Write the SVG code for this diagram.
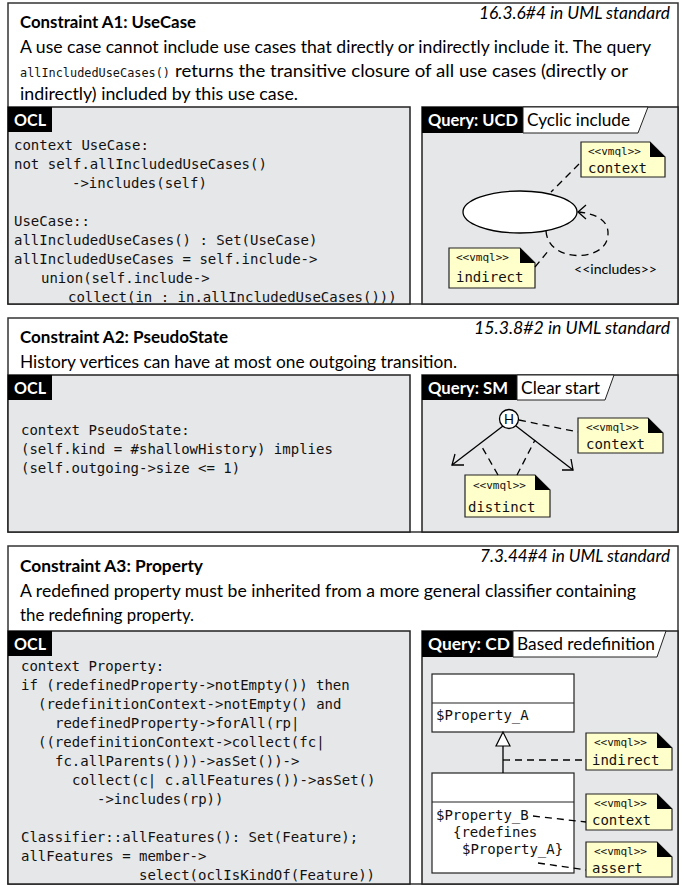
<svg xmlns="http://www.w3.org/2000/svg" width="684" height="886" viewBox="0 0 684 886">
<style>
.sec{fill:#fff;stroke:#333;stroke-width:1.5}
.panel{fill:#E6E7E8;stroke:#222;stroke-width:1.5}
.hdr{fill:#000}
.lbl{fill:#fff;stroke:#222;stroke-width:1}
.note{fill:#FFFFCC;stroke:#222;stroke-width:1.2}
.ear{fill:#000}
.cls{fill:#fff;stroke:#222;stroke-width:1.2}
.dash{fill:none;stroke:#000;stroke-width:1.3;stroke-dasharray:7 5}
.solid{fill:none;stroke:#000;stroke-width:1.3}
.t{font-family:Lato,'Open Sans',sans-serif;font-size:17px;fill:#000}
.b{font-weight:bold}
.i{font-style:italic}
.w{fill:#fff}
.m{font-family:'DejaVu Sans Mono',monospace;font-size:14px;fill:#111}
.s{font-family:'DejaVu Sans Mono',monospace;font-size:11px;fill:#111}
</style>

<!-- Section 1 -->
<g id="sectionA1">
<rect class="sec" x="8" y="3" width="670" height="301"/>
<text class="t b" x="20" y="28" textLength="176" lengthAdjust="spacingAndGlyphs">Constraint A1: UseCase</text>
<text class="t i" x="479" y="19" textLength="191" lengthAdjust="spacingAndGlyphs">16.3.6#4 in UML standard</text>
<text class="t" x="20" y="53" textLength="631" lengthAdjust="spacingAndGlyphs">A use case cannot include use cases that directly or indirectly include it. The query</text>
<text class="m" x="20" y="77" style="font-size:12px" textLength="150" lengthAdjust="spacingAndGlyphs">allIncludedUseCases()</text>
<text class="t" x="175" y="77" textLength="453" lengthAdjust="spacingAndGlyphs">returns the transitive closure of all use cases (directly or</text>
<text class="t" x="20" y="100" textLength="278" lengthAdjust="spacingAndGlyphs">indirectly) included by this use case.</text>
</g>
<g id="oclA1">
<rect class="panel" x="8" y="107" width="402" height="197"/>
<rect class="hdr" x="8" y="107" width="44" height="25"/>
<text class="t b w" x="14" y="126" textLength="32" lengthAdjust="spacingAndGlyphs">OCL</text>
<text class="m" x="14" y="150">context UseCase:</text>
<text class="m" x="14" y="169">not self.allIncludedUseCases()</text>
<text class="m" x="72" y="188">-&gt;includes(self)</text>
<text class="m" x="14" y="226">UseCase::</text>
<text class="m" x="14" y="245">allIncludedUseCases() : Set(UseCase)</text>
<text class="m" x="14" y="264">allIncludedUseCases = self.include-&gt;</text>
<text class="m" x="41" y="283">union(self.include-&gt;</text>
<text class="m" x="68" y="302">collect(in : in.allIncludedUseCases()))</text>
</g>
<g id="queryA1">
<rect class="panel" x="422" y="107" width="256" height="197"/>
<rect class="hdr" x="422" y="107" width="101" height="26"/>
<polygon class="lbl" points="523,107 648,107 638,133 523,133"/>
<text class="t b w" x="428" y="126" textLength="90" lengthAdjust="spacingAndGlyphs">Query: UCD</text>
<text class="t" x="527" y="126" textLength="103" lengthAdjust="spacingAndGlyphs">Cyclic include</text>
</g>
<g id="usecase">
<ellipse cx="520" cy="212" rx="57" ry="21" fill="#fff" stroke="#000" stroke-width="1.3"/>
</g>
<g id="noteContextA1">
<path class="note" d="M581,142 H650 L665,157 V177 H581 Z"/>
<path class="ear" d="M650,142 V157 H665 Z"/>
<text class="s" x="588" y="155">&lt;&lt;vmql&gt;&gt;</text>
<text class="m" x="588" y="173">context</text>
</g>
<g id="noteIndirectA1">
<path class="note" d="M449,248 H520 L535,263 V288 H449 Z"/>
<path class="ear" d="M520,248 V263 H535 Z"/>
<text class="s" x="456" y="261">&lt;&lt;vmql&gt;&gt;</text>
<text class="m" x="456" y="282">indirect</text>
</g>
<text class="t" x="574" y="274" style="font-size:14px" textLength="83" lengthAdjust="spacingAndGlyphs">&lt;&lt;includes&gt;&gt;</text>

<!-- Section 2 -->
<g id="sectionA2">
<rect class="sec" x="8" y="318" width="670" height="214"/>
<text class="t b" x="20" y="343" textLength="208" lengthAdjust="spacingAndGlyphs">Constraint A2: PseudoState</text>
<text class="t i" x="474" y="334" textLength="196" lengthAdjust="spacingAndGlyphs">15.3.8#2 in UML standard</text>
<text class="t" x="20" y="368" textLength="437" lengthAdjust="spacingAndGlyphs">History vertices can have at most one outgoing transition.</text>
</g>
<g id="oclA2">
<rect class="panel" x="8" y="375" width="402" height="157"/>
<rect class="hdr" x="8" y="375" width="44" height="25"/>
<text class="t b w" x="14" y="394" textLength="32" lengthAdjust="spacingAndGlyphs">OCL</text>
<text class="m" x="21" y="435">context PseudoState:</text>
<text class="m" x="21" y="454">(self.kind = #shallowHistory) implies</text>
<text class="m" x="21" y="473">(self.outgoing-&gt;size &lt;= 1)</text>
</g>
<g id="queryA2">
<rect class="panel" x="422" y="375" width="256" height="157"/>
<rect class="hdr" x="422" y="375" width="95" height="25"/>
<polygon class="lbl" points="517,375 614,375 605,400 517,400"/>
<text class="t b w" x="428" y="394" textLength="80" lengthAdjust="spacingAndGlyphs">Query: SM</text>
<text class="t" x="521" y="394" textLength="79" lengthAdjust="spacingAndGlyphs">Clear start</text>
</g>
<g id="history">
<circle cx="509" cy="419" r="9.5" fill="#fff" stroke="#000" stroke-width="1.3"/>
<text class="t" x="509" y="424" style="font-size:13px" text-anchor="middle">H</text>
</g>
<g id="noteContextA2">
<path class="note" d="M578,418 H648 L663,433 V453 H578 Z"/>
<path class="ear" d="M648,418 V433 H663 Z"/>
<text class="s" x="586" y="431">&lt;&lt;vmql&gt;&gt;</text>
<text class="m" x="586" y="449">context</text>
</g>
<g id="noteDistinct">
<path class="note" d="M465,475 H535 L550,490 V517 H465 Z"/>
<path class="ear" d="M535,475 V490 H550 Z"/>
<text class="s" x="473" y="489">&lt;&lt;vmql&gt;&gt;</text>
<text class="m" x="468" y="512">distinct</text>
</g>

<!-- Section 3 -->
<g id="sectionA3">
<rect class="sec" x="8" y="546" width="670" height="338"/>
<text class="t b" x="20" y="572" textLength="183" lengthAdjust="spacingAndGlyphs">Constraint A3: Property</text>
<text class="t i" x="480" y="562" textLength="190" lengthAdjust="spacingAndGlyphs">7.3.44#4 in UML standard</text>
<text class="t" x="20" y="597" textLength="616" lengthAdjust="spacingAndGlyphs">A redefined property must be inherited from a more general classifier containing</text>
<text class="t" x="20" y="621" textLength="174" lengthAdjust="spacingAndGlyphs">the redefining property.</text>
</g>
<g id="oclA3">
<rect class="panel" x="8" y="631" width="402" height="253"/>
<rect class="hdr" x="8" y="631" width="44" height="25"/>
<text class="t b w" x="14" y="650" textLength="32" lengthAdjust="spacingAndGlyphs">OCL</text>
<text class="m" x="21" y="671">context Property:</text>
<text class="m" x="21" y="690">if (redefinedProperty-&gt;notEmpty()) then</text>
<text class="m" x="38" y="709">(redefinitionContext-&gt;notEmpty() and</text>
<text class="m" x="55" y="728">redefinedProperty-&gt;forAll(rp|</text>
<text class="m" x="38" y="747">((redefinitionContext-&gt;collect(fc|</text>
<text class="m" x="55" y="766">fc.allParents()))-&gt;asSet())-&gt;</text>
<text class="m" x="72" y="785">collect(c| c.allFeatures())-&gt;asSet()</text>
<text class="m" x="97" y="804">-&gt;includes(rp))</text>
<text class="m" x="21" y="842">Classifier::allFeatures(): Set(Feature);</text>
<text class="m" x="21" y="861">allFeatures = member-&gt;</text>
<text class="m" x="139" y="880">select(oclIsKindOf(Feature))</text>
</g>
<g id="queryA3">
<rect class="panel" x="422" y="631" width="256" height="253"/>
<rect class="hdr" x="422" y="631" width="91" height="26"/>
<polygon class="lbl" points="513,631 666,631 657,657 513,657"/>
<text class="t b w" x="428" y="650" textLength="82" lengthAdjust="spacingAndGlyphs">Query: CD</text>
<text class="t" x="517" y="650" textLength="138" lengthAdjust="spacingAndGlyphs">Based redefinition</text>
</g>
<g id="classA">
<rect class="cls" x="432" y="674" width="142" height="58"/>
<line x1="432" y1="703" x2="574" y2="703" stroke="#222" stroke-width="1.2"/>
<text class="m" x="436" y="720">$Property_A</text>
</g>
<g id="classB">
<rect class="cls" x="432" y="773" width="142" height="100"/>
<line x1="432" y1="802" x2="574" y2="802" stroke="#222" stroke-width="1.2"/>
<text class="m" x="436" y="820">$Property_B</text>
<text class="m" x="453" y="837">{redefines</text>
<text class="m" x="462" y="854">$Property_A}</text>
</g>
<g id="noteIndirectA3">
<path class="note" d="M586,733 H657 L672,748 V770 H586 Z"/>
<path class="ear" d="M657,733 V748 H672 Z"/>
<text class="s" x="594" y="746">&lt;&lt;vmql&gt;&gt;</text>
<text class="m" x="592" y="765">indirect</text>
</g>
<g id="noteContextA3">
<path class="note" d="M586,794 H657 L672,809 V830 H586 Z"/>
<path class="ear" d="M657,794 V809 H672 Z"/>
<text class="s" x="594" y="807">&lt;&lt;vmql&gt;&gt;</text>
<text class="m" x="592" y="825">context</text>
</g>
<g id="noteAssert">
<path class="note" d="M586,842 H657 L672,857 V877 H586 Z"/>
<path class="ear" d="M657,842 V857 H672 Z"/>
<text class="s" x="594" y="855">&lt;&lt;vmql&gt;&gt;</text>
<text class="m" x="592" y="873">assert</text>
</g>

<!-- Connectors -->
<g id="connectors">
<path class="dash" d="M579,164 L551,192"/>
<path class="dash" d="M546,231 C548,262 600,262 607,240 C612,222 598,214 579,212"/>
<polyline class="solid" points="586,205 578,212 586,219"/>
<path class="dash" d="M535,267 L549,250"/>

<path class="solid" d="M503,426 L452,465"/>
<polyline class="solid" points="455,454 452,465 464,465"/>
<path class="solid" d="M516,426 L573,470"/>
<polyline class="solid" points="571,459 573,470 562,470"/>
<path class="dash" d="M519,420 L578,432"/>
<path class="dash" d="M498,475 L482,447"/>
<path class="dash" d="M517,475 L535,440"/>

<path class="solid" d="M503,746 L503,773"/>
<polygon points="503,732 496,746 510,746" fill="#fff" stroke="#000" stroke-width="1.2"/>
<path class="dash" d="M503,760 L586,760"/>
<path class="dash" d="M533,816 L586,822"/>
<path class="dash" d="M538,863 L586,870"/>
</g>
</svg>
